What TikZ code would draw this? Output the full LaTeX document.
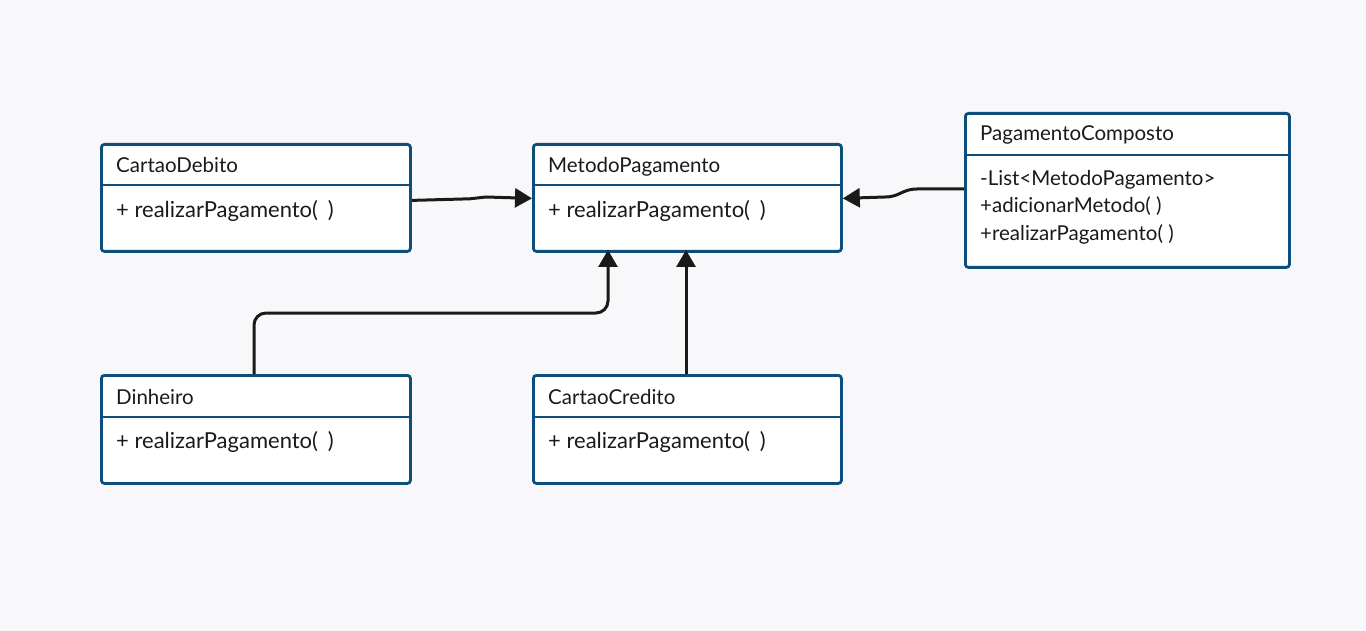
\documentclass[tikz,border=0pt]{standalone}
\usepackage{fontspec}
\setmainfont{Lato}
\usetikzlibrary{arrows.meta}
\definecolor{bg}{HTML}{F8F8FA}
\definecolor{bordercol}{HTML}{0E4E7A}
\definecolor{linecol}{HTML}{1A1A1A}
\definecolor{txt}{HTML}{1A1A1A}
\tikzset{
  cls/.style={draw=bordercol, line width=2.8pt, fill=white, rounded corners=3pt, anchor=north west, inner sep=0pt},
  divider/.style={draw=bordercol, line width=2.8pt},
  lbl/.style={anchor=base west, inner sep=0pt, text=txt, font=\fontsize{20.5}{24}\selectfont},
  mlbl/.style={lbl, font=\fontsize{22}{26}\selectfont},
  conn/.style={draw=linecol, line width=3pt, -{Triangle[length=17pt,width=19pt]}, rounded corners=12pt}
}
\begin{document}
\begin{tikzpicture}[x=1pt,y=-1pt]
\useasboundingbox[fill=bg] (0,0) rectangle (1366,631);

% CartaoDebito
\node[cls, minimum width=309pt, minimum height=107pt] (cd) at (100,143) {};
\draw[divider] (100,185) -- (409,185);
\node[lbl] (cdt) at (116,173) {CartaoDebito};
\node[mlbl] (cdm) at (116,218) {+ realizarPagamento(\hspace{0.45em})};

% MetodoPagamento
\node[cls, minimum width=308pt, minimum height=107pt] (mp) at (532,143) {};
\draw[divider] (532,185) -- (840,185);
\node[lbl] (mpt) at (548,173) {MetodoPagamento};
\node[mlbl] (mpm) at (548,218) {+ realizarPagamento(\hspace{0.45em})};

% PagamentoComposto
\node[cls, minimum width=324pt, minimum height=154pt] (pc) at (964,112) {};
\draw[divider] (964,155) -- (1288,155);
\node[lbl] (pct) at (980,141) {PagamentoComposto};
\node[lbl] (pc1) at (980,186) {-List<MetodoPagamento>};
\node[lbl] (pc2) at (980,213) {+adicionarMetodo( )};
\node[lbl] (pc3) at (980,241) {+realizarPagamento( )};

% Dinheiro
\node[cls, minimum width=309pt, minimum height=108pt] (di) at (100,374) {};
\draw[divider] (100,417) -- (409,417);
\node[lbl] (dit) at (116,404) {Dinheiro};
\node[mlbl] (dim) at (116,448.5) {+ realizarPagamento(\hspace{0.45em})};

% CartaoCredito
\node[cls, minimum width=308pt, minimum height=108pt] (cc) at (532,374) {};
\draw[divider] (532,417) -- (840,417);
\node[lbl] (cct) at (548,404) {CartaoCredito};
\node[mlbl] (ccm) at (548,448.5) {+ realizarPagamento(\hspace{0.45em})};

% connectors
\coordinate (cdout) at ([yshift=-2.5pt]cd.east);
\coordinate (mpinL) at ([yshift=-0.5pt]mp.east -| mp.west);
\draw[conn, rounded corners=0pt] (cdout) -- (470,198.8) .. controls (478,198.8) and (478,197) .. (486,197) -- (mpinL);

\coordinate (pcout) at (pc.west |- 0,189);
\coordinate (mpinR) at ([yshift=-0.5pt]mp.east);
\draw[conn, rounded corners=0pt] (pcout) -- (917,189) .. controls (902,189) and (900,197) .. (885,197) -- (mpinR);

\coordinate (dtop) at (254,374);
\coordinate (mpb1) at (608,250);
\draw[conn] (dtop) -- (254,313) -- (608,313) -- (mpb1);

\coordinate (cctop) at (686,374);
\coordinate (mpb2) at (686,250);
\draw[conn] (cctop) -- (mpb2);
\end{tikzpicture}
\end{document}
